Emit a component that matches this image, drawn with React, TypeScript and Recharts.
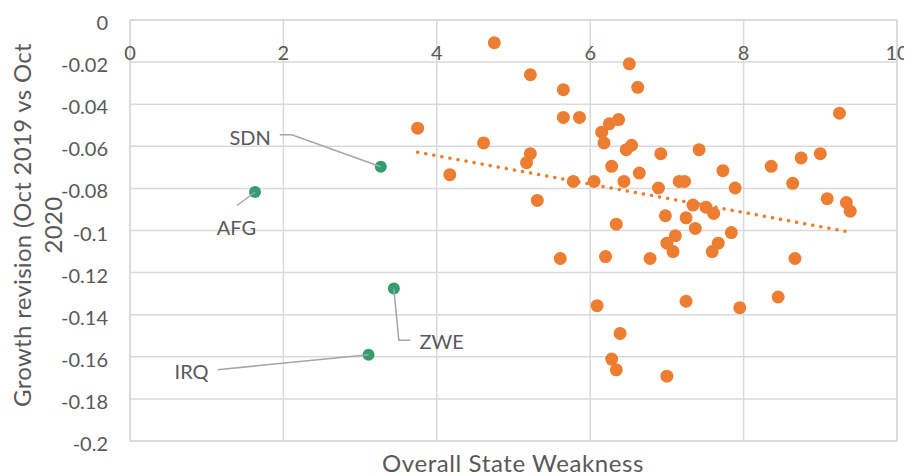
import React from 'react';
import { ScatterChart, Scatter, XAxis, YAxis, CartesianGrid, ReferenceLine } from 'recharts';

// Orange series: Overall State Weakness vs growth revision
const weakness = [
  3.75, 4.17, 4.61, 4.75, 5.22, 5.65, 5.65, 5.86, 5.22, 5.17, 5.31, 5.61, 5.78, 6.05, 6.09, 6.15,
  6.18, 6.2, 6.25, 6.28, 6.28, 6.34, 6.34, 6.37, 6.39, 6.44, 6.47, 6.51, 6.54, 6.62, 6.64, 6.78,
  6.89, 6.92, 6.98, 7.0, 7.0, 7.08, 7.11, 7.16, 7.23, 7.25, 7.25, 7.34, 7.37, 7.42, 7.51, 7.59,
  7.61, 7.67, 7.73, 7.84, 7.89, 7.95, 8.36, 8.45, 8.64, 8.67, 8.75, 9.0, 9.09, 9.25, 9.34, 9.39,
];
const revision = [
  -0.0514, -0.0735, -0.0584, -0.0108, -0.026, -0.0331, -0.0463, -0.0463, -0.0635, -0.0678, -0.0857, -0.1133, -0.0767, -0.0767, -0.1357, -0.0533,
  -0.0584, -0.1124, -0.0493, -0.0695, -0.1611, -0.097, -0.1662, -0.0473, -0.1489, -0.0767, -0.0616, -0.0208, -0.0595, -0.032, -0.0727, -0.1133,
  -0.0798, -0.0635, -0.093, -0.106, -0.1692, -0.11, -0.1025, -0.0767, -0.0767, -0.094, -0.1336, -0.0879, -0.099, -0.0616, -0.0889, -0.11,
  -0.0919, -0.106, -0.0716, -0.101, -0.0798, -0.1367, -0.0695, -0.1316, -0.0776, -0.1133, -0.0655, -0.0635, -0.0849, -0.0443, -0.0867, -0.0908,
];

// Labelled (green) series
const labeledCodes = ['AFG', 'SDN', 'ZWE', 'IRQ'];
const labeledWeakness = [1.63, 3.27, 3.44, 3.11];
const labeledRevision = [-0.0817, -0.0697, -0.1276, -0.159];

// Linear trend line (orange series) endpoints
const trendWeakness = [3.75, 9.39];
const trendRevision = [-0.0628, -0.1008];

const xTicks = [0, 2, 4, 6, 8, 10];
const yTicks = [0, -0.02, -0.04, -0.06, -0.08, -0.1, -0.12, -0.14, -0.16, -0.18, -0.2];
const xDomain = [0, 10];
const yDomain = [-0.2, 0];

const xTitle = 'Overall State Weakness';
const yTitleLines = ['Growth revision (Oct 2019 vs Oct', '2020'];

const orangeData = weakness.map((x, i) => ({ x, y: revision[i] }));
const greenData = labeledCodes.map((code, i) => ({ code, x: labeledWeakness[i], y: labeledRevision[i] }));
const trendData = trendWeakness.map((x, i) => ({ x, y: trendRevision[i] }));

const FONT = 'Lato, "Open Sans", sans-serif';
const TEXT = '#595959';
const GRID = '#D9D9D9';
const ORANGE = '#ED7D31';
const GREEN = '#339E6B';
const LEADER = '#A6A6A6';

const leaderStyle: Record<string, { path: number[][]; tx: number; ty: number; anchor: 'start' | 'middle' | 'end' }> = {
  SDN: { path: [[0, 0], [-89, -32], [-101, -32]], tx: -110, ty: -29.5, anchor: 'end' },
  AFG: { path: [[0, 0], [-18, 13.5]], tx: -18.6, ty: 35.2, anchor: 'middle' },
  ZWE: { path: [[0, 0], [5, 51.7], [16.5, 51.7]], tx: 25.7, ty: 52.4, anchor: 'start' },
  IRQ: { path: [[0, 0], [-151, 15]], tx: -160, ty: 16.7, anchor: 'end' },
};

const OrangeDot = (props: any) => {
  const { cx, cy } = props;
  if (cx == null || cy == null) return null;
  return <circle cx={cx} cy={cy} r={6.5} fill={ORANGE} />;
};

const GreenDot = (props: any) => {
  const { cx, cy, payload } = props;
  if (cx == null || cy == null) return null;
  const s = leaderStyle[payload.code];
  const pts = s.path.map((p) => `${cx + p[0]},${cy + p[1]}`).join(' ');
  return (
    <g>
      <circle cx={cx} cy={cy} r={6} fill={GREEN} />
      <polyline points={pts} fill="none" stroke={LEADER} strokeWidth={1.5} />
      <text
        x={cx + s.tx}
        y={cy + s.ty}
        textAnchor={s.anchor}
        dominantBaseline="central"
        fill={TEXT}
        fontSize={20}
        fontFamily={FONT}
      >
        {payload.code}
      </text>
    </g>
  );
};

const XTick = (props: any) => {
  const { x, y, payload } = props;
  return (
    <text x={x} y={y} textAnchor="middle" dominantBaseline="central" fill={TEXT} fontSize={20} fontFamily={FONT}>
      {String(payload.value)}
    </text>
  );
};

const YTick = (props: any) => {
  const { x, y, payload } = props;
  return (
    <text x={x} y={y + 2} textAnchor="end" dominantBaseline="central" fill={TEXT} fontSize={20} fontFamily={FONT}>
      {String(payload.value)}
    </text>
  );
};

const NoShape = () => null;

export default function App() {
  const W = 904;
  const H = 468;
  return (
    <div style={{ position: 'relative', width: W, height: H, fontFamily: FONT }}>
      <ScatterChart width={W} height={H} margin={{ top: 12, right: 15, bottom: 35, left: 0 }}>
        <CartesianGrid stroke={GRID} strokeWidth={1.5} />
        <XAxis
          type="number"
          dataKey="x"
          orientation="top"
          domain={xDomain}
          ticks={xTicks}
          height={1}
          mirror
          tickSize={0}
          tickMargin={32}
          tickLine={false}
          axisLine={false}
          tick={<XTick />}
          interval={0}
        />
        <YAxis
          type="number"
          dataKey="y"
          domain={yDomain}
          ticks={yTicks}
          width={122}
          tickSize={0}
          tickMargin={22}
          tickLine={false}
          axisLine={false}
          tick={<YTick />}
          interval={0}
        />
        {xDomain.map((v) => (
          <ReferenceLine key={`vx${v}`} x={v} stroke={GRID} strokeWidth={1.5} />
        ))}
        {yDomain.map((v) => (
          <ReferenceLine key={`hy${v}`} y={v} stroke={GRID} strokeWidth={1.5} />
        ))}
        <Scatter data={orangeData} shape={<OrangeDot />} isAnimationActive={false} />
        <Scatter
          data={trendData}
          shape={<NoShape />}
          line={{ stroke: ORANGE, strokeWidth: 3.5, strokeDasharray: '0.1 8.1', strokeLinecap: 'round' }}
          lineType="joint"
          isAnimationActive={false}
        />
        <Scatter data={greenData} shape={<GreenDot />} isAnimationActive={false} />
      </ScatterChart>
      <div
        style={{
          position: 'absolute',
          left: 505,
          top: 455,
          transform: 'translate(-50%, -50%)',
          whiteSpace: 'nowrap',
          fontSize: 24,
          letterSpacing: 0.6,
          color: TEXT,
          lineHeight: 1,
        }}
      >
        {xTitle}
      </div>
      {yTitleLines.map((line, i) => (
        <div
          key={line}
          style={{
            position: 'absolute',
            left: i === 0 ? 14 : 45,
            top: 217,
            transform: 'translate(-50%, -50%) rotate(-90deg)',
            whiteSpace: 'nowrap',
            fontSize: 24,
            letterSpacing: 0.3,
            color: TEXT,
            lineHeight: 1,
          }}
        >
          {line}
        </div>
      ))}
    </div>
  );
}
